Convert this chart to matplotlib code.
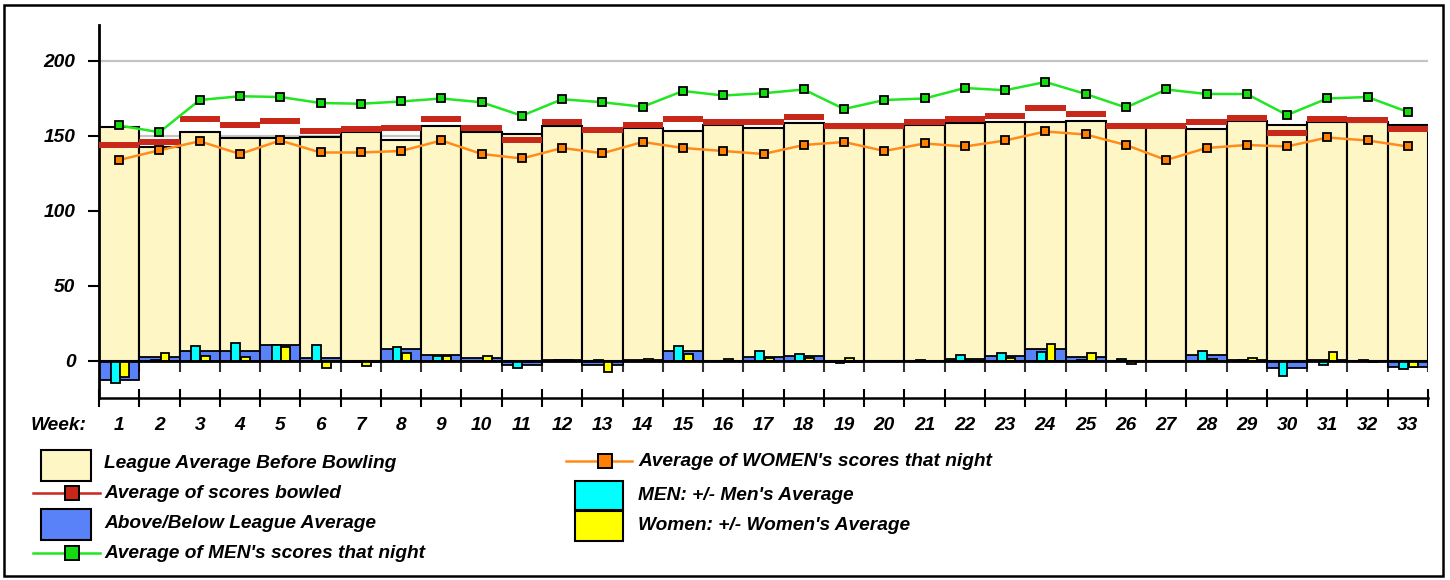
import matplotlib
matplotlib.use('Agg')
import numpy as np
import matplotlib.pyplot as plt
from matplotlib.patches import Rectangle
from matplotlib.lines import Line2D

FONT = dict(family='Liberation Sans', weight='bold', style='italic', size=13.8)

weeks = list(range(1, 34))
league_avg = [156, 142.5, 152.5, 148.5, 148.5, 149, 152.5, 147.5, 156.5, 152.5, 151,
              156.5, 153, 155, 153.5, 157.5, 155, 158.5, 155, 155, 157, 158.5,
              159, 159.5, 160, 156, 156, 154.5, 160, 157.5, 159.5, 159, 157.5]
scores_avg = [144, 146, 161.5, 157.5, 160, 153, 154.5, 155.5, 161.5, 155, 147.5,
              159, 154, 157, 161.5, 159, 159.5, 162.5, 156.5, 156.5, 159.5, 161,
              163, 168.5, 164.5, 156.5, 156.5, 159.5, 162, 152, 161, 160.5, 154.5]
men_avg = [157, 152.5, 174, 176.5, 176, 172, 171.5, 173, 175, 172.5, 163.5,
           174.5, 172.5, 169.5, 180, 177, 178.5, 181, 168, 174, 175, 182,
           180.5, 186, 178, 169, 181, 178, 178, 164, 175, 176, 166]
women_avg = [134, 140.5, 146.5, 138, 147, 139, 139, 140, 147, 138, 135,
             142, 138.5, 146, 142, 140, 138, 144, 146, 140, 145, 143,
             147, 153, 151, 144, 134, 142, 144, 143, 149, 147, 143]
vs_league = [-12.7, 2.4, 6.9, 6.9, 10.7, 1.8, -0.5, 8, 4, 1.8, -2.5,
             0.7, -2.7, 0.7, 6.9, 0.3, 2.7, 3.3, -0.5, 0.3, 0.3, 1.6,
             3.3, 7.8, 2.7, 0, 0, 4, 0.7, -4.4, 0.8, 0.3, -3.8]
men_diff = [-15, 0.7, 10, 11.8, 10.7, 10.7, 0, 9.1, 3.3, 0.3, -4.4,
            0.5, 0.7, 0, 10.2, 0, 6.9, 4.7, -1.5, 0, 0.5, 4,
            5.1, 6.2, 0.7, 1.1, 0, 6.9, 0.5, -10, -2.7, 0.5, -5.3]
women_diff = [-10.4, 5.6, 3.3, 2.4, 9.6, -4.9, -3.3, 5.6, 3.3, 3.3, -1,
              0.7, -7.6, 1.1, 4.7, 1.1, 2, 2, 1.8, 0, 0.3, 0.3,
              2.2, 11.1, 5.1, -2.2, 0, 1.3, 2.2, 0.3, 5.8, -1, -3.8]
yticks = [0, 50, 100, 150, 200]

CREAM = '#FFF6C6'
BLUE = '#5A82F8'
CYAN = '#00FFFF'
YELLOW = '#FFFF00'
RED = '#C8281A'
GREEN_L = '#22E622'
GREEN_M = '#11DD11'
ORANGE_L = '#FF8C1A'
ORANGE_M = '#FF7F00'

fig = plt.figure(figsize=(14.5, 5.8), dpi=100)
W, H = 1450, 580

# overlay in pixel coords for border / legend
bg = fig.add_axes([0, 0, 1, 1])
bg.set_xlim(0, W)
bg.set_ylim(H, 0)
bg.axis('off')
bg.add_patch(Rectangle((4, 5), 1439, 571, fill=False, lw=1.8, ec='black'))

l, r, t, b = 99, 1428, 25, 398
ax = fig.add_axes([l / W, 1 - b / H, (r - l) / W, (b - t) / H])
ax.patch.set_alpha(0)

x = np.array(weeks) - 0.5
ax.set_xlim(0, len(weeks))
ax.set_ylim(-24.67, 224)

for yv in yticks:
    ax.axhline(yv, color='#c4c4c4', lw=1.6, zorder=0)

ax.bar(x, league_avg, width=1, color=CREAM, edgecolor='black', lw=1.5, zorder=1)
ax.vlines(np.arange(0, len(weeks) + 1), -7.5, 0, color='#333333', lw=1.5, zorder=0.5)
ax.bar(x, vs_league, width=1, color=BLUE, edgecolor='black', lw=1.3, zorder=2)
ax.bar(x - 0.1, men_diff, width=0.22, color=CYAN, edgecolor='black', lw=1.3, zorder=3)
ax.bar(x + 0.14, women_diff, width=0.22, color=YELLOW, edgecolor='black', lw=1.3, zorder=3)
ax.axhline(0, color='black', lw=2, zorder=3.5)

ax.bar(x, [4] * len(weeks), bottom=np.array(scores_avg) - 2, width=1,
       color=RED, lw=0, zorder=4)

ax.plot(x, women_avg, color=ORANGE_L, lw=1.8, marker='s', ms=6.3, mfc=ORANGE_M,
        mec='black', mew=1.3, zorder=5)
ax.plot(x, men_avg, color=GREEN_L, lw=1.8, marker='s', ms=6.3, mfc=GREEN_M,
        mec='black', mew=1.3, zorder=5)

for s in ['top', 'right']:
    ax.spines[s].set_visible(False)
ax.spines['left'].set_linewidth(2)
ax.spines['bottom'].set_linewidth(1.8)

ax.set_yticks(yticks)
ax.set_yticklabels([str(v) for v in yticks], fontdict=FONT)
ax.tick_params(axis='y', direction='out', length=8, width=1.5, pad=9)

ax.set_xticks(np.arange(0, len(weeks) + 1))
ax.set_xticklabels([])
ax.tick_params(axis='x', which='major', direction='inout', length=13, width=1.5)
ax.set_xticks(x, minor=True)
ax.set_xticklabels([str(w) for w in weeks], minor=True, fontdict=FONT)
ax.tick_params(axis='x', which='minor', length=0, pad=14)

bg.text(86, 425, 'Week:', ha='right', va='center', **FONT)

# legend
def box(x0, y0, w, h, c):
    bg.add_patch(Rectangle((x0, y0), w, h, fc=c, ec='black', lw=1.5))

def line_item(x0, x1, xm, y, lc, mc):
    bg.add_line(Line2D([x0, x1], [y, y], color=lc, lw=1.8))
    bg.plot([xm], [y], marker='s', ms=9.5, mfc=mc, mec='black', mew=1.4)

box(41, 450, 50, 31, CREAM)
bg.text(104, 463, 'League Average Before Bowling', va='center', **FONT)
line_item(33, 100, 72, 493, RED, RED)
bg.text(104, 494, 'Average of scores bowled', va='center', **FONT)
box(41, 509, 50, 31, BLUE)
bg.text(104, 524, 'Above/Below League Average', va='center', **FONT)
line_item(33, 100, 72, 553, GREEN_L, GREEN_M)
bg.text(104, 554, "Average of MEN's scores that night", va='center', **FONT)

line_item(566, 632, 605, 461, ORANGE_L, ORANGE_M)
bg.text(638, 462, "Average of WOMEN's scores that night", va='center', **FONT)
box(575, 481, 48, 29, CYAN)
box(575, 511, 48, 30, YELLOW)
bg.text(638, 495, "MEN: +/- Men's Average", va='center', **FONT)
bg.text(638, 525, "Women: +/- Women's Average", va='center', **FONT)

fig.savefig('out.png', dpi=100)
